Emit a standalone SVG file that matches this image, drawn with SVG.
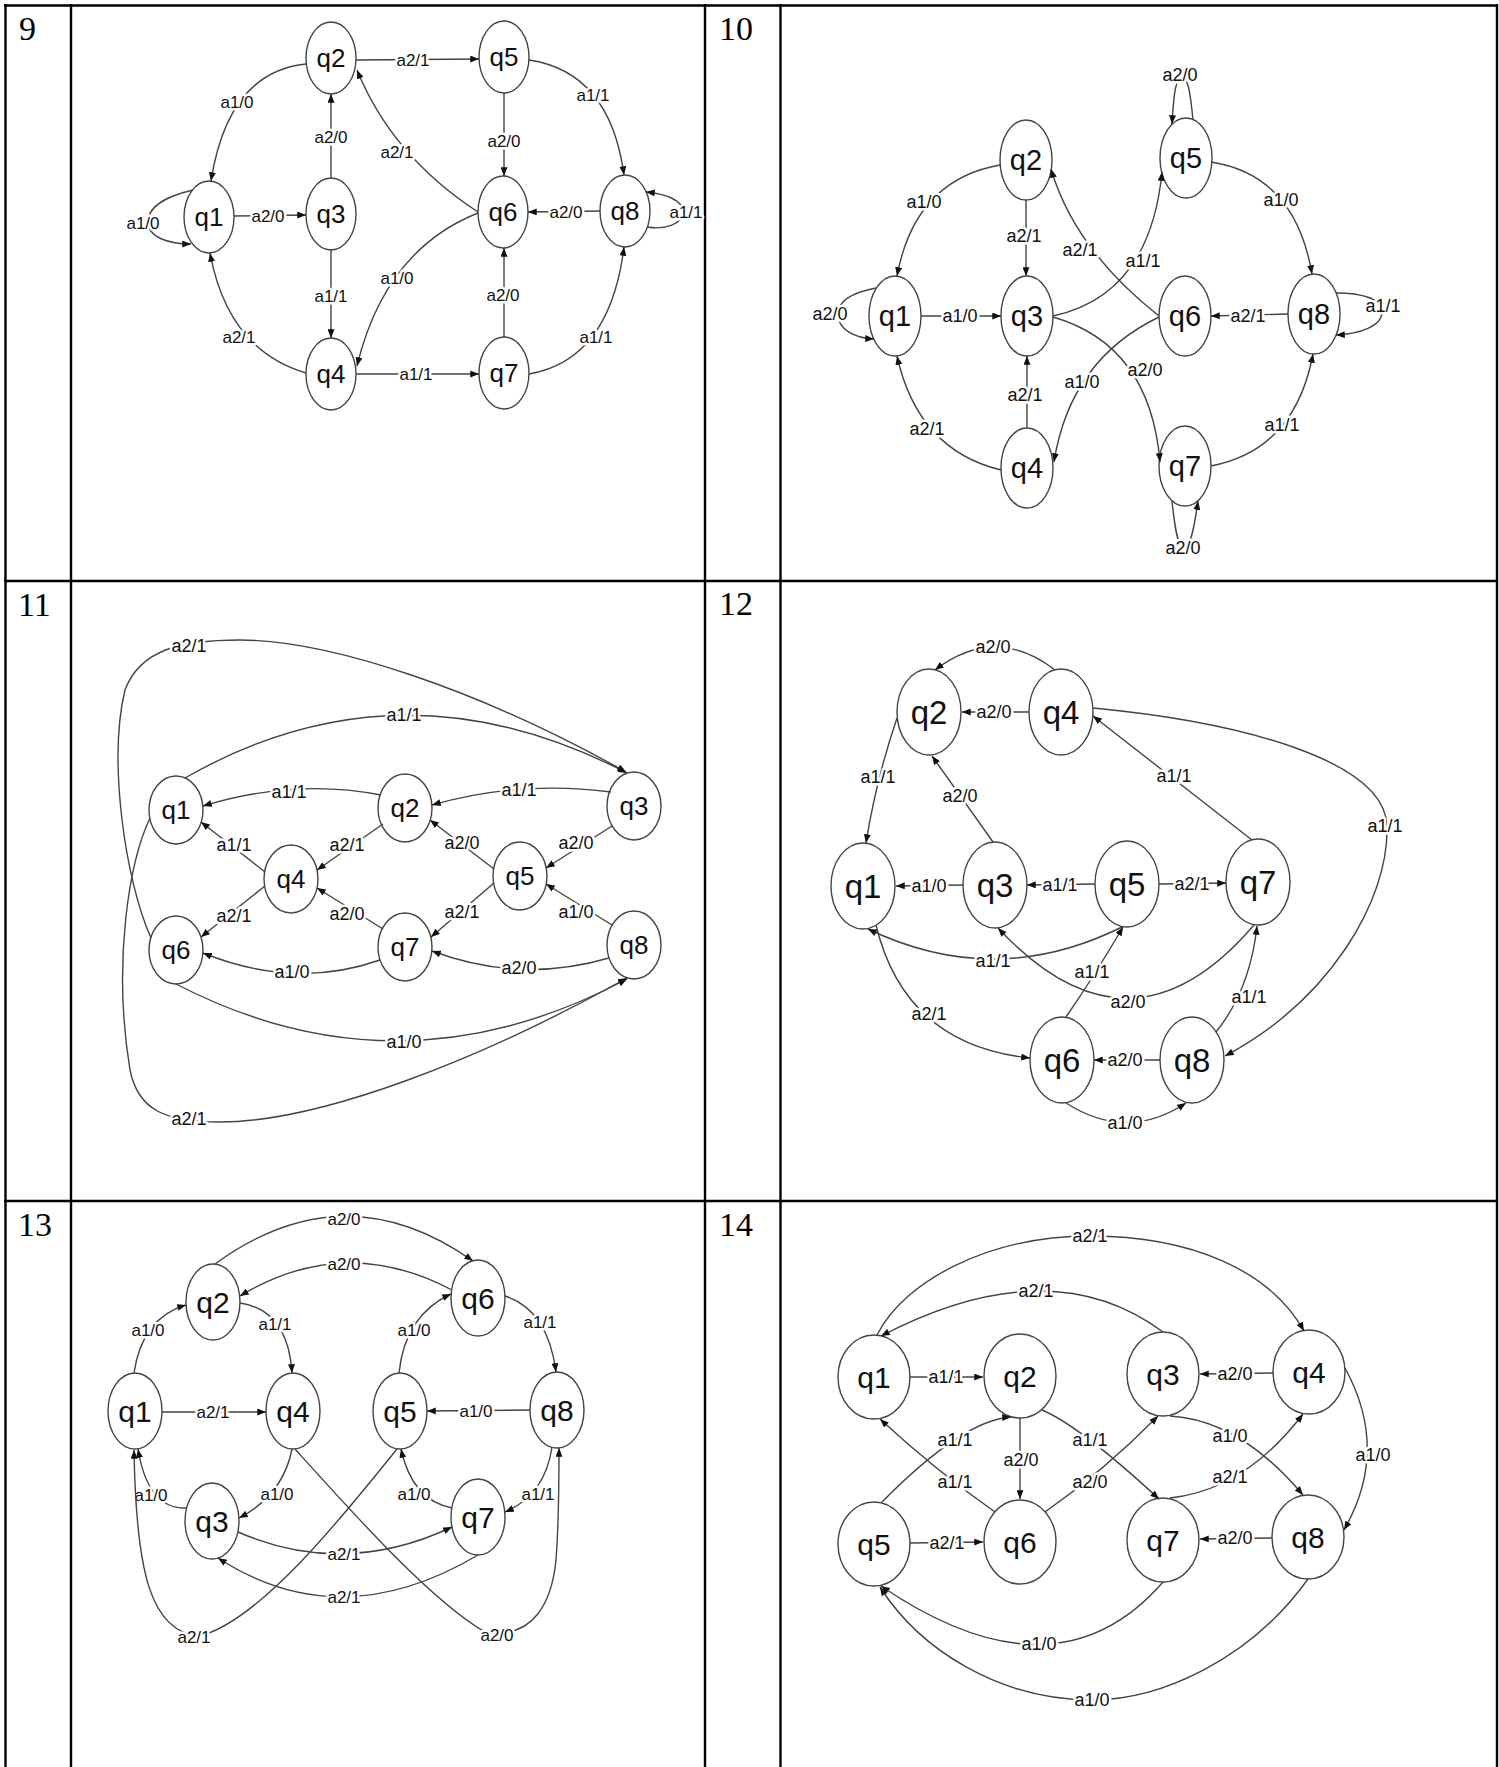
<svg xmlns="http://www.w3.org/2000/svg" width="1499" height="1767" viewBox="0 0 1499 1767">
<defs>
<marker id="ah" viewBox="0 0 10 8" refX="10" refY="4" markerWidth="9" markerHeight="7" markerUnits="userSpaceOnUse" orient="auto"><path d="M0,0 L10,4 L0,8 z" fill="#111"/></marker>
<style>
.tbl{stroke:#000;stroke-width:2.4;fill:none}
.num{font-family:"Liberation Serif","Times New Roman",serif;font-size:34px;fill:#000}
.e{fill:none;stroke:#444;stroke-width:1.4;marker-end:url(#ah)}
.lb{font-family:"Liberation Sans",Arial,sans-serif;font-size:18px;fill:#111;text-anchor:middle;dominant-baseline:central;stroke:#fff;stroke-width:5px;paint-order:stroke;stroke-linejoin:round}
.nd ellipse{fill:#fff;stroke:#444;stroke-width:1.4}
.nd text{font-family:"Liberation Sans",Arial,sans-serif;font-size:26px;fill:#111;text-anchor:middle;dominant-baseline:central}
#p9 .lb,#p13 .lb{font-size:17px}
#p10 .nd text{font-size:29px}
#p12 .nd text{font-size:33px}
#p13 .nd text,#p14 .nd text{font-size:30px}
</style>
</defs>
<rect width="1499" height="1767" fill="#fff"/>
<g id="table" class="tbl">
<path d="M4,5.5 H1498 M5.5,4 V1767 M71,4 V1767 M705,4 V1767 M780.5,4 V1767 M1497,4 V1767 M4,581 H1498 M4,1201 H1498"/>
</g>
<g id="numbers">
<text class="num" x="19" y="40">9</text>
<text class="num" x="719" y="40">10</text>
<text class="num" x="18" y="616">11</text>
<text class="num" x="719" y="615">12</text>
<text class="num" x="18" y="1236">13</text>
<text class="num" x="719" y="1236">14</text>
</g>

<g id="p9">
<g id="p9-q1" class="nd"><ellipse cx="209" cy="217" rx="25" ry="36"/><text x="209" y="217">q1</text></g>
<g id="p9-q2" class="nd"><ellipse cx="331" cy="58" rx="25" ry="36"/><text x="331" y="58">q2</text></g>
<g id="p9-q3" class="nd"><ellipse cx="331" cy="214" rx="25" ry="36"/><text x="331" y="214">q3</text></g>
<g id="p9-q4" class="nd"><ellipse cx="331" cy="374" rx="25" ry="36"/><text x="331" y="374">q4</text></g>
<g id="p9-q5" class="nd"><ellipse cx="504" cy="57" rx="25" ry="36"/><text x="504" y="57">q5</text></g>
<g id="p9-q6" class="nd"><ellipse cx="503" cy="212" rx="25" ry="36"/><text x="503" y="212">q6</text></g>
<g id="p9-q7" class="nd"><ellipse cx="504" cy="373" rx="25" ry="36"/><text x="504" y="373">q7</text></g>
<g id="p9-q8" class="nd"><ellipse cx="625" cy="211" rx="25" ry="36"/><text x="625" y="211">q8</text></g>
<g id="p9-edges">
<path class="e" d="M306,64 Q228,72 211,181"/><text class="lb" x="237" y="102">a1/0</text>
<path class="e" d="M193,190 C168,196 148,205 148,222 C148,238 170,244 191,244"/><text class="lb" x="143" y="223">a1/0</text>
<path class="e" d="M234,216 L306,215"/><text class="lb" x="268" y="216">a2/0</text>
<path class="e" d="M331,178 L331,94"/><text class="lb" x="331" y="137">a2/0</text>
<path class="e" d="M356,60 L479,59"/><text class="lb" x="413" y="60">a2/1</text>
<path class="e" d="M478,212 Q392,156 357,70"/><text class="lb" x="397" y="152">a2/1</text>
<path class="e" d="M504,93 L504,176"/><text class="lb" x="504" y="141">a2/0</text>
<path class="e" d="M529,60 Q610,72 624,175"/><text class="lb" x="593" y="95">a1/1</text>
<path class="e" d="M600,211 L528,212"/><text class="lb" x="566" y="212">a2/0</text>
<path class="e" d="M647,227 C665,230 683,224 683,212 C683,200 666,194 646,192"/><text class="lb" x="686" y="212">a1/1</text>
<path class="e" d="M331,250 L331,338"/><text class="lb" x="331" y="296">a1/1</text>
<path class="e" d="M306,373 Q228,350 210,253"/><text class="lb" x="239" y="337">a2/1</text>
<path class="e" d="M478,213 Q385,250 357,366"/><text class="lb" x="397" y="278">a1/0</text>
<path class="e" d="M356,374 L479,374"/><text class="lb" x="416" y="374">a1/1</text>
<path class="e" d="M504,337 L504,248"/><text class="lb" x="503" y="295">a2/0</text>
<path class="e" d="M529,374 Q610,360 624,247"/><text class="lb" x="596" y="337">a1/1</text>
</g>
</g>

<g id="p10">
<g id="p10-q1" class="nd"><ellipse cx="895" cy="316" rx="26" ry="40"/><text x="895" y="316">q1</text></g>
<g id="p10-q2" class="nd"><ellipse cx="1026" cy="160" rx="26" ry="40"/><text x="1026" y="160">q2</text></g>
<g id="p10-q3" class="nd"><ellipse cx="1027" cy="316" rx="26" ry="40"/><text x="1027" y="316">q3</text></g>
<g id="p10-q4" class="nd"><ellipse cx="1027" cy="468" rx="26" ry="40"/><text x="1027" y="468">q4</text></g>
<g id="p10-q5" class="nd"><ellipse cx="1186" cy="158" rx="26" ry="40"/><text x="1186" y="158">q5</text></g>
<g id="p10-q6" class="nd"><ellipse cx="1185" cy="316" rx="26" ry="40"/><text x="1185" y="316">q6</text></g>
<g id="p10-q7" class="nd"><ellipse cx="1185" cy="466" rx="26" ry="40"/><text x="1185" y="466">q7</text></g>
<g id="p10-q8" class="nd"><ellipse cx="1314" cy="314" rx="26" ry="40"/><text x="1314" y="314">q8</text></g>
<g id="p10-edges">
<path class="e" d="M1000,165 Q915,180 897,276"/><text class="lb" x="924" y="202">a1/0</text>
<path class="e" d="M876,288 C855,292 838,300 838,314 C838,330 855,338 874,339"/><text class="lb" x="830" y="314">a2/0</text>
<path class="e" d="M921,316 L1001,316"/><text class="lb" x="960" y="316">a1/0</text>
<path class="e" d="M1026,200 L1026,276"/><text class="lb" x="1024" y="236">a2/1</text>
<path class="e" d="M1159,316 Q1075,250 1051,169"/><text class="lb" x="1080" y="250">a2/1</text>
<path class="e" d="M1053,316 Q1150,295 1162,172"/><text class="lb" x="1143" y="261">a1/1</text>
<path class="e" d="M1193,120 C1190,90 1188,78 1182,78 C1176,78 1174,90 1172,124"/><text class="lb" x="1180" y="75">a2/0</text>
<path class="e" d="M1211,162 Q1295,175 1312,274"/><text class="lb" x="1281" y="200">a1/0</text>
<path class="e" d="M1288,314 L1211,316"/><text class="lb" x="1248" y="316">a2/1</text>
<path class="e" d="M1336,293 C1360,293 1382,298 1382,312 C1382,326 1360,334 1336,335"/><text class="lb" x="1383" y="306">a1/1</text>
<path class="e" d="M1053,317 Q1150,345 1160,462"/><text class="lb" x="1145" y="370">a2/0</text>
<path class="e" d="M1159,317 Q1070,360 1054,462"/><text class="lb" x="1082" y="382">a1/0</text>
<path class="e" d="M1027,428 L1027,356"/><text class="lb" x="1025" y="395">a2/1</text>
<path class="e" d="M1001,470 Q918,450 897,356"/><text class="lb" x="927" y="429">a2/1</text>
<path class="e" d="M1211,466 Q1295,450 1313,354"/><text class="lb" x="1282" y="425">a1/1</text>
<path class="e" d="M1172,501 C1175,530 1178,548 1184,548 C1190,548 1194,530 1198,501"/><text class="lb" x="1183" y="548">a2/0</text>
</g>
</g>

<g id="p11">
<g id="p11-q1" class="nd"><ellipse cx="176" cy="810" rx="27" ry="34"/><text x="176" y="810">q1</text></g>
<g id="p11-q2" class="nd"><ellipse cx="405" cy="808" rx="27" ry="34"/><text x="405" y="808">q2</text></g>
<g id="p11-q3" class="nd"><ellipse cx="634" cy="806" rx="27" ry="34"/><text x="634" y="806">q3</text></g>
<g id="p11-q4" class="nd"><ellipse cx="291" cy="879" rx="27" ry="34"/><text x="291" y="879">q4</text></g>
<g id="p11-q5" class="nd"><ellipse cx="520" cy="876" rx="27" ry="34"/><text x="520" y="876">q5</text></g>
<g id="p11-q6" class="nd"><ellipse cx="176" cy="950" rx="27" ry="34"/><text x="176" y="950">q6</text></g>
<g id="p11-q7" class="nd"><ellipse cx="405" cy="947" rx="27" ry="34"/><text x="405" y="947">q7</text></g>
<g id="p11-q8" class="nd"><ellipse cx="634" cy="945" rx="27" ry="34"/><text x="634" y="945">q8</text></g>
<g id="p11-edges">
<path class="e" d="M381,795 Q295,778 203,806"/><text class="lb" x="289" y="792">a1/1</text>
<path class="e" d="M265,872 L201,822"/><text class="lb" x="234" y="845">a1/1</text>
<path class="e" d="M611,792 Q520,780 432,805"/><text class="lb" x="519" y="790">a1/1</text>
<path class="e" d="M383,824 L317,870"/><text class="lb" x="347" y="845">a2/1</text>
<path class="e" d="M494,869 L430,820"/><text class="lb" x="462" y="843">a2/0</text>
<path class="e" d="M612,826 L546,868"/><text class="lb" x="576" y="843">a2/0</text>
<path class="e" d="M612,925 L546,884"/><text class="lb" x="576" y="912">a1/0</text>
<path class="e" d="M494,883 L431,937"/><text class="lb" x="462" y="912">a2/1</text>
<path class="e" d="M383,929 L317,888"/><text class="lb" x="347" y="914">a2/0</text>
<path class="e" d="M265,886 L201,937"/><text class="lb" x="234" y="916">a2/1</text>
<path class="e" d="M380,960 Q295,990 203,953"/><text class="lb" x="292" y="972">a1/0</text>
<path class="e" d="M609,958 Q520,984 432,951"/><text class="lb" x="519" y="968">a2/0</text>
<path class="e" d="M185,778 Q400,655 627,773"/><text class="lb" x="404" y="715">a1/1</text>
<path class="e" d="M151,938 C125,880 108,760 125,690 C140,650 180,640 240,640 C330,640 480,690 626,772"/><text class="lb" x="189" y="646">a2/1</text>
<path class="e" d="M150,818 C130,860 112,960 130,1070 C138,1110 165,1122 220,1122 C320,1122 480,1060 627,978"/><text class="lb" x="189" y="1119">a2/1</text>
<path class="e" d="M176,984 Q400,1100 627,979"/><text class="lb" x="404" y="1042">a1/0</text>
</g>
</g>

<g id="p12">
<g id="p12-q1" class="nd"><ellipse cx="863" cy="886" rx="32" ry="43"/><text x="863" y="886">q1</text></g>
<g id="p12-q2" class="nd"><ellipse cx="929" cy="712" rx="32" ry="43"/><text x="929" y="712">q2</text></g>
<g id="p12-q3" class="nd"><ellipse cx="995" cy="885" rx="32" ry="43"/><text x="995" y="885">q3</text></g>
<g id="p12-q4" class="nd"><ellipse cx="1061" cy="712" rx="32" ry="43"/><text x="1061" y="712">q4</text></g>
<g id="p12-q5" class="nd"><ellipse cx="1127" cy="884" rx="32" ry="43"/><text x="1127" y="884">q5</text></g>
<g id="p12-q6" class="nd"><ellipse cx="1062" cy="1060" rx="32" ry="43"/><text x="1062" y="1060">q6</text></g>
<g id="p12-q7" class="nd"><ellipse cx="1258" cy="882" rx="32" ry="43"/><text x="1258" y="882">q7</text></g>
<g id="p12-q8" class="nd"><ellipse cx="1192" cy="1060" rx="32" ry="43"/><text x="1192" y="1060">q8</text></g>
<g id="p12-edges">
<path class="e" d="M1055,670 Q995,624 935,670"/><text class="lb" x="993" y="647">a2/0</text>
<path class="e" d="M1029,712 L962,712"/><text class="lb" x="994" y="712">a2/0</text>
<path class="e" d="M897,718 Q876,780 866,843"/><text class="lb" x="878" y="777">a1/1</text>
<path class="e" d="M993,842 L932,756"/><text class="lb" x="960" y="796">a2/0</text>
<path class="e" d="M1252,840 L1093,716"/><text class="lb" x="1174" y="776">a1/1</text>
<path class="e" d="M1093,708 C1240,722 1385,760 1387,826 C1389,900 1330,1000 1225,1056"/><text class="lb" x="1385" y="826">a1/1</text>
<path class="e" d="M963,885 L896,886"/><text class="lb" x="929" y="886">a1/0</text>
<path class="e" d="M1095,884 L1027,885"/><text class="lb" x="1060" y="885">a1/1</text>
<path class="e" d="M1159,884 L1226,883"/><text class="lb" x="1192" y="884">a2/1</text>
<path class="e" d="M1122,927 Q995,990 868,929"/><text class="lb" x="993" y="961">a1/1</text>
<path class="e" d="M1066,1017 Q1095,975 1123,927"/><text class="lb" x="1092" y="972">a1/1</text>
<path class="e" d="M1254,925 Q1130,1070 998,928"/><text class="lb" x="1128" y="1002">a2/0</text>
<path class="e" d="M876,925 Q905,1045 1030,1058"/><text class="lb" x="929" y="1014">a2/1</text>
<path class="e" d="M1160,1060 L1094,1060"/><text class="lb" x="1125" y="1060">a2/0</text>
<path class="e" d="M1216,1032 Q1250,990 1257,926"/><text class="lb" x="1249" y="997">a1/1</text>
<path class="e" d="M1066,1103 Q1127,1142 1186,1103"/><text class="lb" x="1125" y="1123">a1/0</text>
</g>
</g>

<g id="p13">
<g id="p13-q1" class="nd"><ellipse cx="135" cy="1411" rx="27" ry="38"/><text x="135" y="1411">q1</text></g>
<g id="p13-q2" class="nd"><ellipse cx="213" cy="1302" rx="27" ry="38"/><text x="213" y="1302">q2</text></g>
<g id="p13-q3" class="nd"><ellipse cx="212" cy="1521" rx="27" ry="38"/><text x="212" y="1521">q3</text></g>
<g id="p13-q4" class="nd"><ellipse cx="293" cy="1411" rx="27" ry="38"/><text x="293" y="1411">q4</text></g>
<g id="p13-q5" class="nd"><ellipse cx="400" cy="1411" rx="27" ry="38"/><text x="400" y="1411">q5</text></g>
<g id="p13-q6" class="nd"><ellipse cx="478" cy="1298" rx="27" ry="38"/><text x="478" y="1298">q6</text></g>
<g id="p13-q7" class="nd"><ellipse cx="478" cy="1517" rx="27" ry="38"/><text x="478" y="1517">q7</text></g>
<g id="p13-q8" class="nd"><ellipse cx="557" cy="1410" rx="27" ry="38"/><text x="557" y="1410">q8</text></g>
<g id="p13-edges">
<path class="e" d="M215,1264 Q344,1170 473,1261"/><text class="lb" x="344" y="1219">a2/0</text>
<path class="e" d="M452,1290 Q344,1233 240,1296"/><text class="lb" x="344" y="1264">a2/0</text>
<path class="e" d="M134,1373 Q142,1318 186,1305"/><text class="lb" x="148" y="1330">a1/0</text>
<path class="e" d="M240,1303 Q288,1310 292,1373"/><text class="lb" x="275" y="1324">a1/1</text>
<path class="e" d="M505,1296 Q548,1310 556,1372"/><text class="lb" x="540" y="1322">a1/1</text>
<path class="e" d="M162,1412 L266,1412"/><text class="lb" x="213" y="1412">a2/1</text>
<path class="e" d="M530,1410 L427,1411"/><text class="lb" x="476" y="1411">a1/0</text>
<path class="e" d="M292,1449 Q283,1495 239,1518"/><text class="lb" x="277" y="1494">a1/0</text>
<path class="e" d="M187,1508 Q148,1510 138,1449"/><text class="lb" x="151" y="1495">a1/0</text>
<path class="e" d="M238,1532 Q344,1578 452,1527"/><text class="lb" x="344" y="1554">a2/1</text>
<path class="e" d="M478,1555 Q340,1637 218,1558"/><text class="lb" x="344" y="1597">a2/1</text>
<path class="e" d="M397,1449 C340,1520 260,1620 200,1636 C150,1633 136,1570 134,1450"/><text class="lb" x="194" y="1637">a2/1</text>
<path class="e" d="M452,1508 Q412,1500 401,1449"/><text class="lb" x="414" y="1494">a1/0</text>
<path class="e" d="M295,1449 C350,1510 430,1600 485,1632 C535,1640 552,1600 556,1560 C559,1520 559,1480 559,1448"/><text class="lb" x="497" y="1635">a2/0</text>
<path class="e" d="M552,1447 Q545,1495 505,1512"/><text class="lb" x="538" y="1494">a1/1</text>
<path class="e" d="M399,1373 Q405,1315 451,1294"/><text class="lb" x="414" y="1330">a1/0</text>
</g>
</g>

<g id="p14">
<g id="p14-q1" class="nd"><ellipse cx="874" cy="1377" rx="36" ry="42"/><text x="874" y="1377">q1</text></g>
<g id="p14-q2" class="nd"><ellipse cx="1020" cy="1376" rx="36" ry="42"/><text x="1020" y="1376">q2</text></g>
<g id="p14-q3" class="nd"><ellipse cx="1163" cy="1374" rx="36" ry="42"/><text x="1163" y="1374">q3</text></g>
<g id="p14-q4" class="nd"><ellipse cx="1309" cy="1372" rx="36" ry="42"/><text x="1309" y="1372">q4</text></g>
<g id="p14-q5" class="nd"><ellipse cx="874" cy="1544" rx="36" ry="42"/><text x="874" y="1544">q5</text></g>
<g id="p14-q6" class="nd"><ellipse cx="1020" cy="1542" rx="36" ry="42"/><text x="1020" y="1542">q6</text></g>
<g id="p14-q7" class="nd"><ellipse cx="1163" cy="1540" rx="36" ry="42"/><text x="1163" y="1540">q7</text></g>
<g id="p14-q8" class="nd"><ellipse cx="1308" cy="1537" rx="36" ry="42"/><text x="1308" y="1537">q8</text></g>
<g id="p14-edges">
<path class="e" d="M910,1377 L983,1377"/><text class="lb" x="946" y="1377">a1/1</text>
<path class="e" d="M1273,1373 L1200,1374"/><text class="lb" x="1235" y="1374">a2/0</text>
<path class="e" d="M910,1543 L983,1542"/><text class="lb" x="947" y="1543">a2/1</text>
<path class="e" d="M1272,1538 L1200,1539"/><text class="lb" x="1235" y="1538">a2/0</text>
<path class="e" d="M1163,1332 Q1050,1248 881,1336"/><text class="lb" x="1036" y="1291">a2/1</text>
<path class="e" d="M877,1335 C905,1280 990,1236 1090,1236 C1190,1236 1270,1270 1304,1331"/><text class="lb" x="1090" y="1236">a2/1</text>
<path class="e" d="M1020,1418 L1020,1499"/><text class="lb" x="1021" y="1460">a2/0</text>
<path class="e" d="M882,1502 Q963,1420 1011,1417"/><text class="lb" x="955" y="1440">a1/1</text>
<path class="e" d="M1042,1410 Q1080,1426 1159,1499"/><text class="lb" x="1090" y="1440">a1/1</text>
<path class="e" d="M995,1512 Q935,1470 880,1419"/><text class="lb" x="955" y="1482">a1/1</text>
<path class="e" d="M1045,1512 Q1105,1470 1158,1416"/><text class="lb" x="1090" y="1482">a2/0</text>
<path class="e" d="M1170,1416 Q1240,1420 1303,1495"/><text class="lb" x="1230" y="1436">a1/0</text>
<path class="e" d="M1170,1498 Q1245,1490 1303,1414"/><text class="lb" x="1230" y="1477">a2/1</text>
<path class="e" d="M1345,1368 Q1390,1450 1344,1530"/><text class="lb" x="1373" y="1455">a1/0</text>
<path class="e" d="M1163,1582 Q1056,1705 881,1586"/><text class="lb" x="1039" y="1644">a1/0</text>
<path class="e" d="M1308,1579 C1250,1660 1160,1700 1092,1700 C1000,1700 920,1650 880,1587"/><text class="lb" x="1092" y="1700">a1/0</text>
</g>
</g>
</svg>
